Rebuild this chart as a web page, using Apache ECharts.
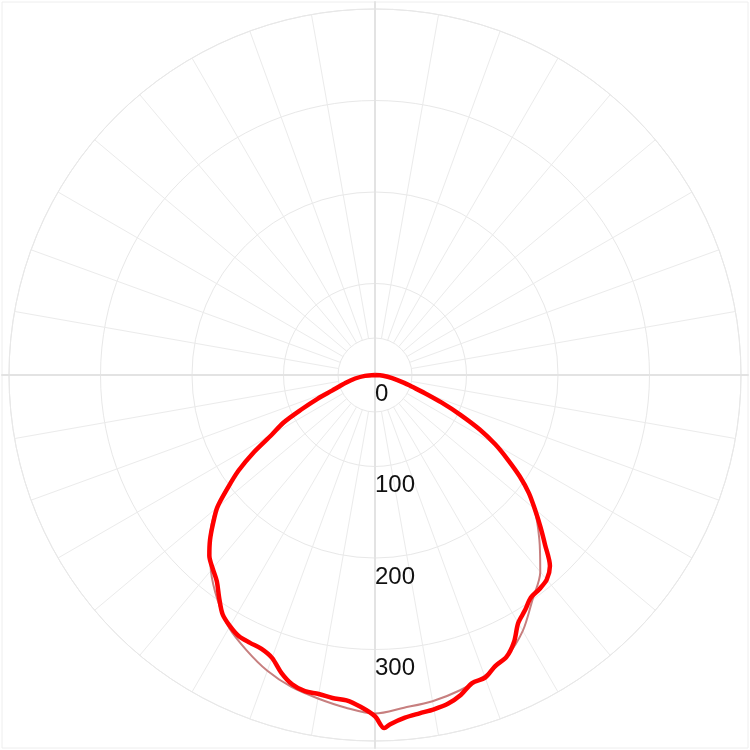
<!DOCTYPE html>
<html><head><meta charset="utf-8">
<script src="https://cdn.jsdelivr.net/npm/echarts@6/dist/echarts.min.js"></script>
<style>html,body{margin:0;padding:0;background:#fff}#c{width:750px;height:750px}</style>
</head><body><div id="c"></div>
<script>
// angle measured from nadir (down), positive to the right
const redAngles = [-90,-85,-80,-75,-70,-67.5,-65,-62.5,-60,-57.5,-55,-52.5,-50,-47.5,-45,-42.5,-40,-37.5,-35,-32.5,-30,-27.5,-25,-22.5,-20,-17.5,-15,-12.5,-10,-7.5,-5,-2.5,0,1.5,2.5,5,7.5,10,12.5,15,17.5,20,22.5,25,27.5,30,32.5,35,37.5,40,42.5,45,47.5,50,52.5,55,57.5,60,62.5,65,67.5,70,72.5,75,80,85,90];
const redValues = [0,11,22,33,50,68,88,113,130,157,182,203,225,240,255,268,276,284,297,310,317,322,323,324,329,341,350,354,354,356,357,363,373,386,382,376,373,371,368,362,353,352,344,340,329,313,305,297,295,292,283,263,245,228,212,193,172,152,129,103,79,58,42,33,19,9,0];
const roseAngles = [-90,-85,-80,-75,-70,-65,-60,-55,-50,-45,-40,-35,-30,-25,-20,-15,-10,-5,0,5,10,15,20,25,30,35,40,45,50,55,60,65,70,75,80,85,90];
const roseValues = [0,11,22,33,50,87,130,182,226,255,279,300,319,332,344,353,359,365,370,365,362,357,350,340,323,300,281,254,227,193,152,103,57,33,19,9,0];
const radiusMin = 0, radiusMax = 400, radiusStep = 100;

const toPairs = (angs, vals) => angs.map((a, i) => [vals[i], a < 0 ? a + 360 : a]);

const chart = echarts.init(document.getElementById('c'), null, {renderer: 'canvas'});
const gridColor = '#e8e8e8';
chart.setOption({
  backgroundColor: '#ffffff',
  animation: false,
  grid: {left: 2, right: 2, top: 2, bottom: 2, show: true, borderColor: '#eeeeee', borderWidth: 1},
  xAxis: {type: 'value', min: -1, max: 1, axisLine: {show: true, onZero: true, lineStyle: {color: '#e3e3e3', width: 2}},
          axisTick: {show: false}, axisLabel: {show: false}, splitLine: {show: false}},
  yAxis: {type: 'value', min: -1, max: 1, axisLine: {show: true, onZero: true, lineStyle: {color: '#e3e3e3', width: 2}},
          axisTick: {show: false}, axisLabel: {show: false}, splitLine: {show: false}},
  polar: [
    {center: ['50%', '50%'], radius: [0, 366]},
    {center: ['50%', '50%'], radius: [37, 366]}
  ],
  angleAxis: [
    {polarIndex: 0, type: 'value', min: 0, max: 360, interval: 10, startAngle: 270, clockwise: false,
     axisLine: {show: false}, axisTick: {show: false}, axisLabel: {show: false}, splitLine: {show: false}},
    {polarIndex: 1, type: 'value', min: 0, max: 360, interval: 10, startAngle: 270, clockwise: false,
     axisLine: {show: false}, axisTick: {show: false}, axisLabel: {show: false},
     splitLine: {show: true, lineStyle: {color: '#ebebeb', width: 1}}}
  ],
  radiusAxis: [
    {polarIndex: 0, type: 'value', min: radiusMin, max: radiusMax, interval: radiusStep,
     axisLine: {show: false}, axisTick: {show: false},
     axisLabel: {show: true, showMaxLabel: false, margin: 0, align: 'left', verticalAlign: 'top',
                 lineHeight: 38, color: '#111', fontSize: 24, fontFamily: 'Liberation Sans, Arial, sans-serif'},
     splitLine: {show: true, lineStyle: {color: gridColor, width: 1}}},
    {polarIndex: 1, type: 'value', min: 0, max: 1, interval: 1,
     axisLine: {show: false}, axisTick: {show: false}, axisLabel: {show: false},
     splitLine: {show: true, lineStyle: {color: gridColor, width: 1}}}
  ],
  series: [
    {type: 'line', coordinateSystem: 'polar', polarIndex: 0, data: toPairs(roseAngles, roseValues),
     showSymbol: false, smooth: 0.3, lineStyle: {color: '#c77f7f', width: 2}, z: 3},
    {type: 'line', coordinateSystem: 'polar', polarIndex: 0, data: toPairs(redAngles, redValues),
     showSymbol: false, smooth: 0.3, lineStyle: {color: '#ff0000', width: 4.5}, z: 4}
  ]
});
</script></body></html>
